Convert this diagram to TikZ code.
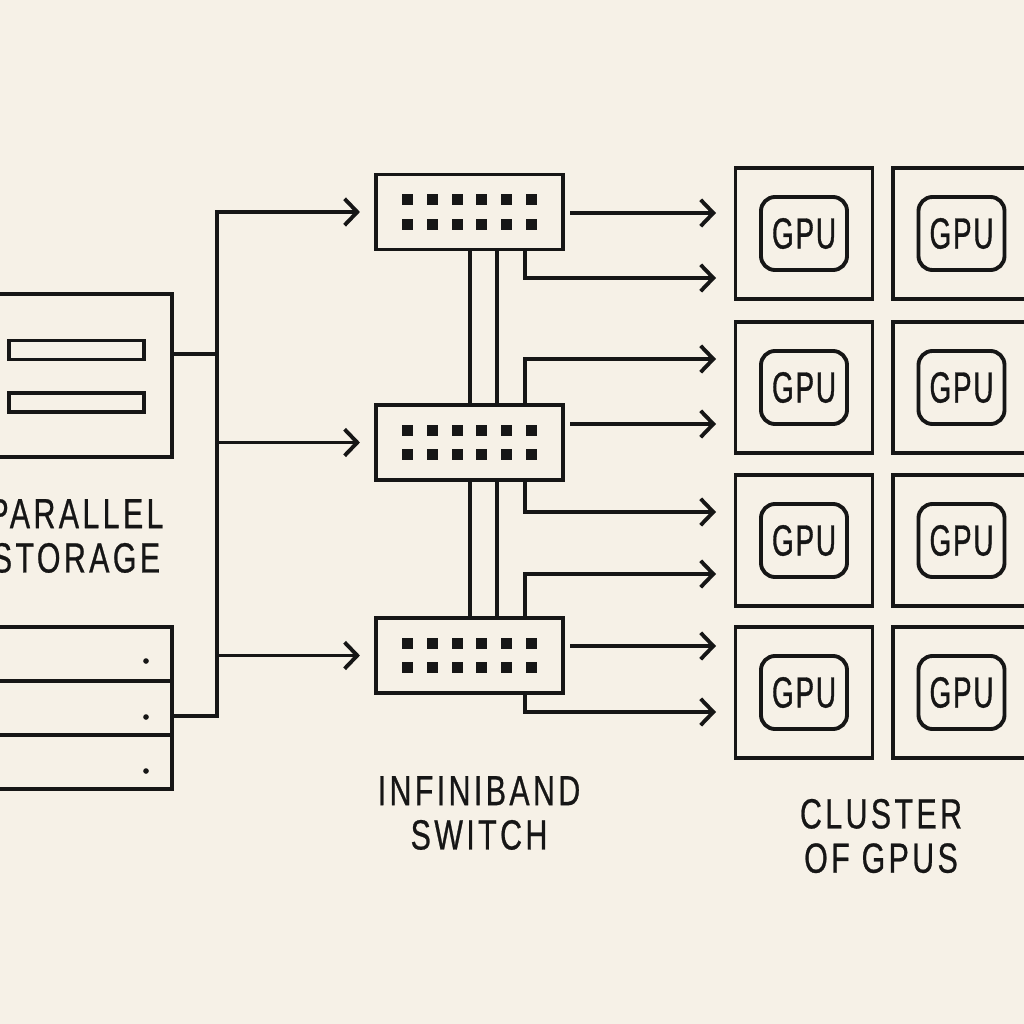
\documentclass[tikz,border=0pt]{standalone}
\usepackage{fontspec}
\setmainfont{Liberation Sans}[FakeStretch=0.72,LetterSpace=8,FakeBold=0.6]
\newfontfamily\gpufont{Liberation Sans}[FakeStretch=0.64,LetterSpace=4,FakeBold=0.8]
\usetikzlibrary{arrows.meta}
\definecolor{paper}{RGB}{246,241,231}
\definecolor{ink}{RGB}{22,22,22}
\begin{document}
\begin{tikzpicture}[x=0.01cm,y=-0.01cm,line width=1.1pt,color=ink,
  >={Straight Barb[length=3.6pt,width=7.5pt]}]
\tikzstyle{box}=[draw=ink,line width=1.1pt,inner sep=0pt]
\tikzstyle{switchbox}=[box,minimum width=1.87cm,minimum height=0.75cm]
\tikzstyle{cell}=[box,minimum width=1.37cm,minimum height=1.31cm]
\tikzstyle{chip}=[box,rounded corners=4pt,minimum width=0.86cm,minimum height=0.73cm,font=\gpufont\fontsize{12.4}{12.4}\selectfont]
\tikzstyle{label}=[align=center,font=\fontsize{12}{12.6}\selectfont]
\useasboundingbox (0,0) rectangle (1024,1024);
\fill[paper] (-50,-50) rectangle (1100,1100);
% storage
\node[box,minimum width=1.92cm,minimum height=1.63cm] (stor) at (76,375.5) {};
\node[box,minimum width=1.35cm,minimum height=0.19cm] (bar1) at (76.5,350) {};
\node[box,minimum width=1.35cm,minimum height=0.19cm] (bar2) at (76.5,402.5) {};
\node[box,minimum width=1.92cm,minimum height=0.54cm] (disk1) at (76,654) {};
\node[box,minimum width=1.92cm,minimum height=0.54cm] (disk2) at (76,708) {};
\node[box,minimum width=1.92cm,minimum height=0.54cm] (disk3) at (76,762) {};
\fill (146,661) circle[radius=0.8pt];
\fill (146,717) circle[radius=0.8pt];
\fill (146,771) circle[radius=0.8pt];
\node[label] (lstor) at (76,536) {PARALLEL\\STORAGE};
% switches
\node[switchbox] (sw1) at (469.5,212) {};
\node[switchbox] (sw2) at (469.5,442.5) {};
\node[switchbox] (sw3) at (469.5,655.5) {};
\foreach \s in {sw1,sw2,sw3}
  \foreach \i in {0,...,5}
    \foreach \j in {0,1}
      \fill ([xshift={(\i*0.247-0.672)*1cm},yshift={(0.175-\j*0.24)*1cm}]\s.center) rectangle +(11,11);
\node[label] (lsw) at (479,813) {INFINIBAND\\SWITCH};
% bus from storage
\coordinate (bus) at (217,0);
\coordinate (st1) at (217,354);
\coordinate (st2) at (217,716);
\draw[->,shorten >=4pt] (st2 -| disk2.east) -- (st2) -- (bus |- sw1.west) -- (sw1.west);
\draw (st1 -| stor.east) -- (st1);
\draw[->,shorten >=4pt] (bus |- sw2.west) -- (sw2.west);
\draw[->,shorten >=4pt] (bus |- sw3.west) -- (sw3.west);
% links between switches
\coordinate (la) at (470,0);
\coordinate (lb) at (497,0);
\coordinate (tap) at (525,0);
\draw (la |- sw1.south) -- (la |- sw2.north);
\draw (lb |- sw1.south) -- (lb |- sw2.north);
\draw (la |- sw2.south) -- (la |- sw3.north);
\draw (lb |- sw2.south) -- (lb |- sw3.north);
% switch outputs
\coordinate (t1) at (716,213);
\coordinate (t2) at (716,278);
\coordinate (t3) at (716,359);
\coordinate (t4) at (716,424);
\coordinate (t5) at (716,512);
\coordinate (t6) at (716,574);
\coordinate (t7) at (716,646);
\coordinate (t8) at (716,712);
\draw[->,shorten <=1.5pt] (t1 -| sw1.east) -- (t1);
\draw[->] (tap |- sw1.south) |- (t2);
\draw[->] (tap |- sw2.north) |- (t3);
\draw[->,shorten <=1.5pt] (t4 -| sw2.east) -- (t4);
\draw[->] (tap |- sw2.south) |- (t5);
\draw[->] (tap |- sw3.north) |- (t6);
\draw[->,shorten <=1.5pt] (t7 -| sw3.east) -- (t7);
\draw[->] (tap |- sw3.south) |- (t8);
% gpu cluster
\node[cell] (c11) at (804,233.5) {};
\node[cell] (c12) at (961.5,233.5) {};
\node[cell] (c21) at (804,387.5) {};
\node[cell] (c22) at (961.5,387.5) {};
\node[cell] (c31) at (804,540.5) {};
\node[cell] (c32) at (961.5,540.5) {};
\node[cell] (c41) at (804,692.5) {};
\node[cell] (c42) at (961.5,692.5) {};
\node[chip] (g11) at (c11) {GPU};
\node[chip] (g12) at (c12) {GPU};
\node[chip] (g21) at (c21) {GPU};
\node[chip] (g22) at (c22) {GPU};
\node[chip] (g31) at (c31) {GPU};
\node[chip] (g32) at (c32) {GPU};
\node[chip] (g41) at (c41) {GPU};
\node[chip] (g42) at (c42) {GPU};
\node[label] (lgpu) at (881,836) {CLUSTER\\OF GPUS};
\end{tikzpicture}
\end{document}
